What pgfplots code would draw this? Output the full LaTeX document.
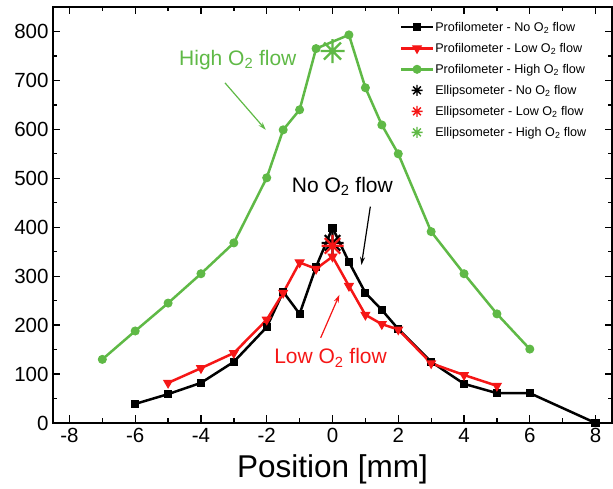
\documentclass[border=0pt]{standalone}
\usepackage{fontspec}
\setmainfont{Liberation Sans}
\usepackage{pgfplots}
\pgfplotsset{compat=1.18}
\usetikzlibrary{arrows.meta}
\definecolor{cgreen}{RGB}{95,185,70}
\definecolor{cred}{RGB}{245,22,22}
\newcommand{\tfont}{\fontsize{20.5}{22}\selectfont}
\pgfdeclareplotmark{ast8}{%
 \pgfpathmoveto{\pgfqpoint{-\pgfplotmarksize}{0pt}}\pgfpathlineto{\pgfqpoint{\pgfplotmarksize}{0pt}}%
 \pgfpathmoveto{\pgfqpoint{0pt}{-\pgfplotmarksize}}\pgfpathlineto{\pgfqpoint{0pt}{\pgfplotmarksize}}%
 \pgfpathmoveto{\pgfqpoint{-0.707\pgfplotmarksize}{-0.707\pgfplotmarksize}}\pgfpathlineto{\pgfqpoint{0.707\pgfplotmarksize}{0.707\pgfplotmarksize}}%
 \pgfpathmoveto{\pgfqpoint{-0.707\pgfplotmarksize}{0.707\pgfplotmarksize}}\pgfpathlineto{\pgfqpoint{0.707\pgfplotmarksize}{-0.707\pgfplotmarksize}}%
 \pgfusepathqstroke}
\begin{document}
\begin{tikzpicture}
\useasboundingbox (-53pt,-66pt) rectangle (560pt,423pt);
\begin{axis}[
  scale only axis, width=559pt, height=416pt,
  xmin=-8.5, xmax=8.5, ymin=0, ymax=850,
  xtick={-8,-6,...,8}, ytick={0,100,...,800},
  xticklabels={{\tfont -8},{\tfont -6},{\tfont -4},{\tfont -2},{\tfont 0},{\tfont 2},{\tfont 4},{\tfont 6},{\tfont 8}},
  yticklabels={{\tfont 0},{\tfont 100},{\tfont 200},{\tfont 300},{\tfont 400},{\tfont 500},{\tfont 600},{\tfont 700},{\tfont 800}},
  minor x tick num=1, minor y tick num=1,
  tick align=inside,
  major tick length=7.5pt, minor tick length=4.5pt,
  every tick/.style={black, line width=1.3pt},
  axis line style={line width=1.6pt},
  xticklabel style={yshift=-2pt},
  yticklabel style={xshift=-1pt},
  xlabel={Position [mm]},
  xlabel style={font=\fontsize{31.5}{33}\selectfont, at={(axis description cs:0.5,0)}, anchor=center, yshift=-46pt},
  legend image code/.code={\draw[mark repeat=2,mark phase=2,#1] plot coordinates {(0pt,0pt)(16pt,0pt)(32pt,0pt)};},
  legend style={draw=none, fill=none, at={(rel axis cs:0.62,0.967)}, anchor=north west,
    inner sep=0pt, row sep=8.4pt, font=\fontsize{12.6}{14}\selectfont,
    nodes={inner sep=1pt}},
  legend cell align=left,
]
\addplot[black, line width=2.5pt, mark=square*, mark size=3.6pt, mark options={line width=1pt}] coordinates {
(-6,39) (-5,59) (-4,82) (-3,125) (-2,196) (-1.5,268) (-1,223) (-0.5,319) (0,399) (0.5,329) (1,266) (1.5,231) (2,192) (3,125) (4,80) (5,61) (6,61) (8,0)};
\addlegendentry{Profilometer - No O\textsubscript{2} flow}
\addplot[cred, line width=2.5pt, mark=triangle*, mark size=5pt, mark options={rotate=180, line width=1pt}] coordinates {
(-5,82) (-4,112) (-3,143) (-2,211) (-1.5,266) (-1,328) (-0.5,315) (0,340) (0.5,280) (1,221) (1.5,202) (2,191) (3,122) (4,98) (5,76)};
\addlegendentry{Profilometer - Low O\textsubscript{2} flow}
\addplot[cgreen, line width=2.5pt, mark=*, mark size=4pt, mark options={line width=1pt}] coordinates {
(-7,130) (-6,188) (-5,245) (-4,305) (-3,368) (-2,501) (-1.5,599) (-1,640) (-0.5,765) (0.5,793) (1,685) (1.5,609) (2,550) (3,391) (4,305) (5,223) (6,151)};
\addlegendentry{Profilometer - High O\textsubscript{2} flow}
\addlegendimage{black, only marks, mark=ast8, mark size=5.5pt, line width=1.4pt}
\addlegendentry{Ellipsometer - No O\textsubscript{2} flow}
\addlegendimage{cred, only marks, mark=ast8, mark size=5.5pt, line width=1.4pt}
\addlegendentry{Ellipsometer - Low O\textsubscript{2} flow}
\addlegendimage{cgreen, only marks, mark=ast8, mark size=5.5pt, line width=1.4pt}
\addlegendentry{Ellipsometer - High O\textsubscript{2} flow}
\addplot[black, only marks, mark=ast8, mark size=11pt, line width=2.2pt, forget plot] coordinates {(0,368)};
\addplot[cred, only marks, mark=ast8, mark size=11pt, line width=2.2pt, forget plot] coordinates {(0,362)};
\addplot[cgreen, only marks, mark=ast8, mark size=12pt, line width=2.2pt, forget plot] coordinates {(0,760)};
\node[cgreen, font=\fontsize{21}{23}\selectfont] at (axis cs:-2.88,742) {High O\textsubscript{2} flow};
\node[black, font=\fontsize{21}{23}\selectfont] at (axis cs:0.30,483) {No O\textsubscript{2} flow};
\node[cred, font=\fontsize{21}{23}\selectfont] at (axis cs:-0.06,133) {Low O\textsubscript{2} flow};
\draw[cgreen, line width=1.2pt, -{Stealth[length=8pt,width=5pt]}] (axis cs:-3.27,695) -- (axis cs:-2.03,599);
\draw[black, line width=1.2pt, -{Stealth[length=8pt,width=5pt]}] (axis cs:1.15,442) -- (axis cs:0.88,323);
\draw[cred, line width=1.2pt, -{Stealth[length=8pt,width=5pt]}] (axis cs:-0.36,174) -- (axis cs:0.21,262);
\end{axis}
\end{tikzpicture}
\end{document}
